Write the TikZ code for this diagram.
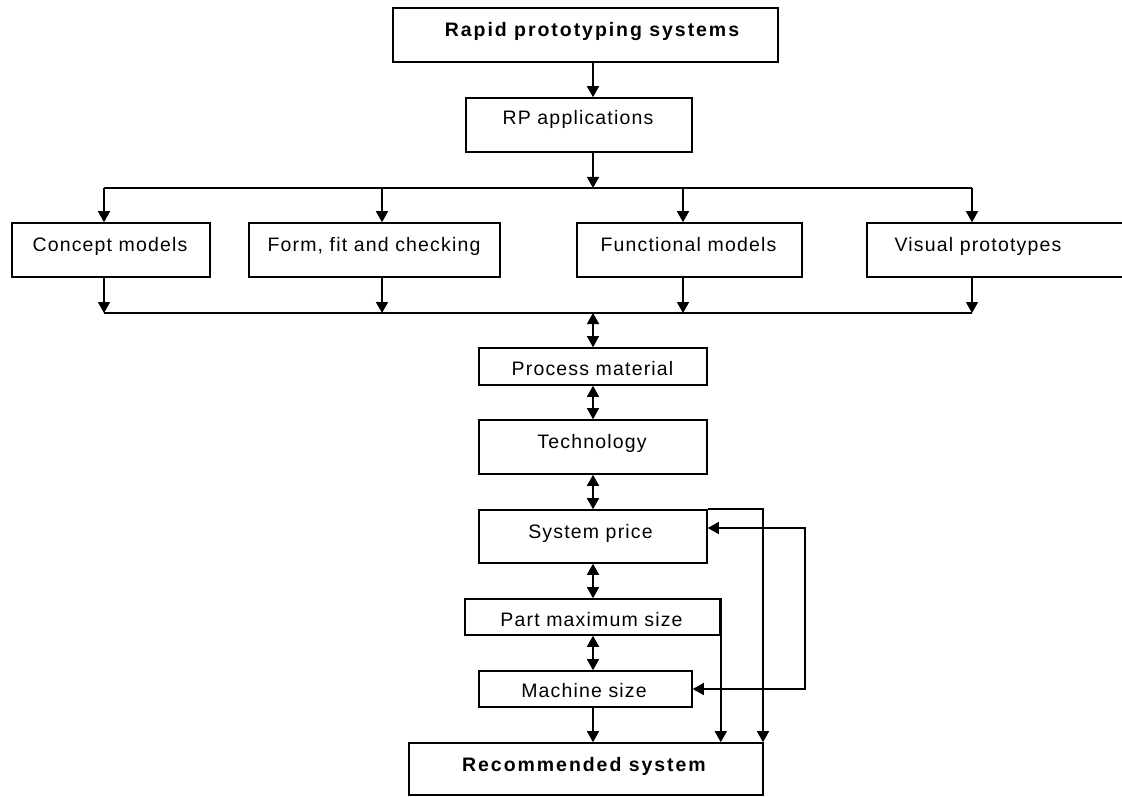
\documentclass[tikz,border=0pt]{standalone}
\usepackage{fontspec}
\setmainfont{Liberation Sans}[LetterSpace=6]
\newfontfamily\headfont{Liberation Sans}[LetterSpace=10]
\usetikzlibrary{arrows.meta}

\tikzset{
  box/.style={draw, line width=1.6pt, inner sep=0pt},
  lbl/.style={anchor=base, inner sep=0pt, font=\fontsize{19.5}{22}\selectfont},
  hd/.style={anchor=base, inner sep=0pt, font=\fontsize{19.5}{22}\selectfont\headfont\bfseries},
  wire/.style={line width=1.6pt},
  arr/.style={wire, -{Triangle[width=12pt,length=11pt]}},
  dbl/.style={wire, {Triangle[width=12pt,length=11pt]}-{Triangle[width=12pt,length=11pt]}},
}

\begin{document}
\begin{tikzpicture}[x=1pt,y=-1pt]
\useasboundingbox (0,0) rectangle (1122,797);
\clip (0,0) rectangle (1122,797);

% boxes
\node[box, minimum width=385pt, minimum height=54pt] (rps) at (585.5,35) {};
\node[hd] (rpsT) at (592,37) {Rapid prototyping systems};

\node[box, minimum width=226pt, minimum height=54pt] (app) at (579,125) {};
\node[lbl] (appT) at (578,125) {RP applications};

\node[box, minimum width=198pt, minimum height=54pt] (cm) at (111,250) {};
\node[lbl] (cmT) at (110,251) {Concept models};

\node[box, minimum width=251pt, minimum height=54pt] (ff) at (374.5,250) {};
\node[lbl] (ffT) at (374,251) {Form, fit and checking};

\node[box, minimum width=225pt, minimum height=54pt] (fm) at (689.5,250) {};
\node[lbl] (fmT) at (688.5,251) {Functional models};

\node[box, minimum width=273pt, minimum height=54pt] (vp) at (1003.5,250) {};
\node[lbl] (vpT) at (978,251) {Visual prototypes};

\node[box, minimum width=228pt, minimum height=37pt] (pm) at (593,366.5) {};
\node[lbl] (pmT) at (592.5,375) {Process material};

\node[box, minimum width=228pt, minimum height=54pt] (tc) at (593,447) {};
\node[lbl] (tcT) at (592,448) {Technology};

\node[box, minimum width=228pt, minimum height=53pt] (sp) at (593,536.5) {};
\node[lbl] (spT) at (590.5,538) {System price};

\node[box, minimum width=255pt, minimum height=36pt] (ps) at (592.5,617) {};
\node[lbl] (psT) at (591.5,626) {Part maximum size};

\node[box, minimum width=213pt, minimum height=36pt] (ms) at (585.5,689) {};
\node[lbl] (msT) at (584,697) {Machine size};

\node[box, minimum width=354pt, minimum height=52pt] (rs) at (586,769) {};
\node[hd] (rsT) at (584,771) {Recommended system};

% guide coordinates
\coordinate (ax) at (593,0);
\coordinate (t1) at (104,188);
\coordinate (t2) at (382,188);
\coordinate (t3) at (683,188);
\coordinate (t4) at (972,188);
\coordinate (b1) at (104,313);
\coordinate (b2) at (382,313);
\coordinate (b3) at (683,313);
\coordinate (b4) at (972,313);
\coordinate (rx) at (763,0);
\coordinate (l1) at (805,528);
\coordinate (l2) at (805,689);

% fan-out to applications
\draw[arr] (rps.south -| ax) -- (app.north -| ax);
\draw[arr] (app.south -| ax) -- (ax |- t1);
\draw[wire] (t1) -- (t4);
\draw[arr] (t1) -- (t1 |- cm.north);
\draw[arr] (t2) -- (t2 |- ff.north);
\draw[arr] (t3) -- (t3 |- fm.north);
\draw[arr] (t4) -- (t4 |- vp.north);

% fan-in
\draw[arr] (b1 |- cm.south) -- (b1);
\draw[arr] (b2 |- ff.south) -- (b2);
\draw[arr] (b3 |- fm.south) -- (b3);
\draw[arr] (b4 |- vp.south) -- (b4);
\draw[wire] (b1) -- (b4);

% selection chain
\draw[dbl] (ax |- b1) -- (pm.north -| ax);
\draw[dbl] (pm.south -| ax) -- (tc.north -| ax);
\draw[dbl] (tc.south -| ax) -- (sp.north -| ax);
\draw[dbl] (sp.south -| ax) -- (ps.north -| ax);
\draw[dbl] (ps.south -| ax) -- (ms.north -| ax);
\draw[arr] (ms.south -| ax) -- (rs.north -| ax);

% side links to the result
\draw[arr] (ps.north east) -- (ps.east |- rs.north);
\draw[arr] (sp.north east) -- (sp.north -| rx) -- (rs.north -| rx);

% feedback loop between price and machine size
\draw[dbl] (sp.east |- l1) -- (l1) -- (l2) -- (ms.east |- l2);
\end{tikzpicture}
\end{document}
